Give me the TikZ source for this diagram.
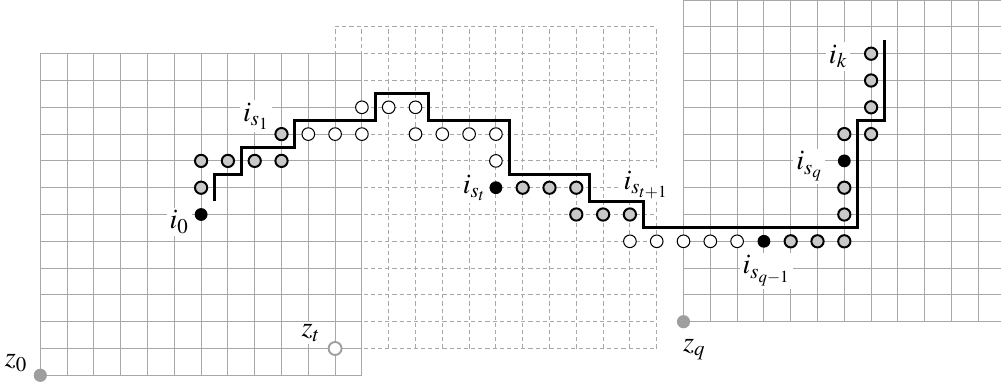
\documentclass[tikz,border=0pt]{standalone}
\usepackage{amsmath}
\usepackage{mathptmx}
\usetikzlibrary{positioning}
\definecolor{gridgray}{HTML}{A8A8A8}
\definecolor{dotgray}{HTML}{C8C8C8}
\definecolor{cornergray}{HTML}{9E9E9E}
\tikzset{
  gridline/.style={draw=gridgray, line width=0.55pt, step=0.5cm},
  dashgrid/.style={gridline, dash pattern=on 2.2pt off 1.6pt},
  graydot/.style={circle, draw=black, fill=dotgray, line width=1.05pt,
    minimum size=6.5pt, inner sep=0pt},
  opendot/.style={circle, draw=black, fill=white, line width=0.55pt,
    minimum size=6.7pt, inner sep=0pt},
  blackdot/.style={circle, fill=black, minimum size=6.8pt, inner sep=0pt},
  cornerdot/.style={circle, fill=cornergray, minimum size=7pt, inner sep=0pt},
  opencorner/.style={circle, draw=cornergray, fill=white, line width=1pt,
    minimum size=6.9pt, inner sep=0pt},
  stair/.style={draw=black, line width=1.5pt},
  lab/.style={fill=white, inner sep=1.5pt, on grid,
    font=\fontsize{15}{17}\selectfont}
}

\begin{document}
\begin{tikzpicture}[x=0.5cm, y=0.5cm]
  \path[fill=white, use as bounding box] (-1.504,-0.213) rectangle (35.847,14.004);

  % three grids, the dashed one under the left one
  \draw[dashgrid] (11,1) grid (23,13);
  \draw[gridline] (0,0) grid (12,12);
  \draw[gridline] (24,2) grid (36,14);

  % corner points
  \node[cornerdot] (z0) at (0,0) {};
  \node[opencorner] (zt) at (11,1) {};
  \node[cornerdot] (zq) at (24,2) {};

  % points below the staircase
  \node[blackdot] (i0) at (6,6) {};
  \node[graydot] (g7-6) at (6,7) {};
  \foreach \x in {6,...,9}
    \node[graydot] (g8-\x) at (\x,8) {};
  \node[graydot] (is1) at (9,9) {};
  \node[blackdot] (ist) at (17,7) {};
  \foreach \x in {18,19,20}
    \node[graydot] (g7-\x) at (\x,7) {};
  \foreach \x in {20,21}
    \node[graydot] (g6-\x) at (\x,6) {};
  \node[graydot] (ist1) at (22,6) {};
  \node[blackdot] (isq1) at (27,5) {};
  \foreach \x in {28,29,30}
    \node[graydot] (g5-\x) at (\x,5) {};
  \foreach \y in {6,7,9}
    \node[graydot] (g\y-30) at (30,\y) {};
  \node[blackdot] (isq) at (30,8) {};
  \foreach \y in {9,10,11}
    \node[graydot] (g\y-31) at (31,\y) {};
  \node[graydot] (ik) at (31,12) {};

  % points above the staircase
  \foreach \x in {10,11,12,14,15,16,17}
    \node[opendot] (w9-\x) at (\x,9) {};
  \foreach \x in {12,13,14}
    \node[opendot] (w10-\x) at (\x,10) {};
  \node[opendot] (w8-17) at (17,8) {};
  \foreach \x in {22,...,26}
    \node[opendot] (w5-\x) at (\x,5) {};

  % labels
  \node[lab, below left=0.14cm and 0.41cm of i0] (l-i0) {$i_0$};
  \node[lab, above left=0.335cm and 0.47cm of is1] (l-is1) {$i_{s_1}$};
  \node[lab, left=0.4cm of ist] (l-ist) {$i_{s_t}$};
  \node[lab, above right=0.55cm and 0.3cm of ist1] (l-ist1) {$i_{s_{t+1}}$};
  \node[lab, below right=0.55cm and 0.05cm of isq1] (l-isq1) {$i_{s_{q-1}}$};
  \node[lab, below left=0.1cm and 0.65cm of isq] (l-isq) {$i_{s_q}$};
  \node[lab, below left=0.05cm and 0.615cm of ik] (l-ik) {$i_k$};
  \node[lab, above left=0.23cm and 0.45cm of z0] (l-z0) {$z_0$};
  \node[lab, above left=0.29cm and 0.45cm of zt] (l-zt) {$z_t$};
  \node[lab, below right=0.525cm and 0.2cm of zq] (l-zq) {$z_q$};

  % staircase
  \draw[stair] (6.5,6.5) |- (7.5,7.5) |- (9.5,8.5) |- (12.5,9.5) |- (14.5,10.5)
    |- (17.5,9.5) |- (20.5,7.5) |- (22.5,6.5) |- (30.5,5.5) |- (31.5,9.5)
    -- (31.5,12.5);
\end{tikzpicture}
\end{document}
